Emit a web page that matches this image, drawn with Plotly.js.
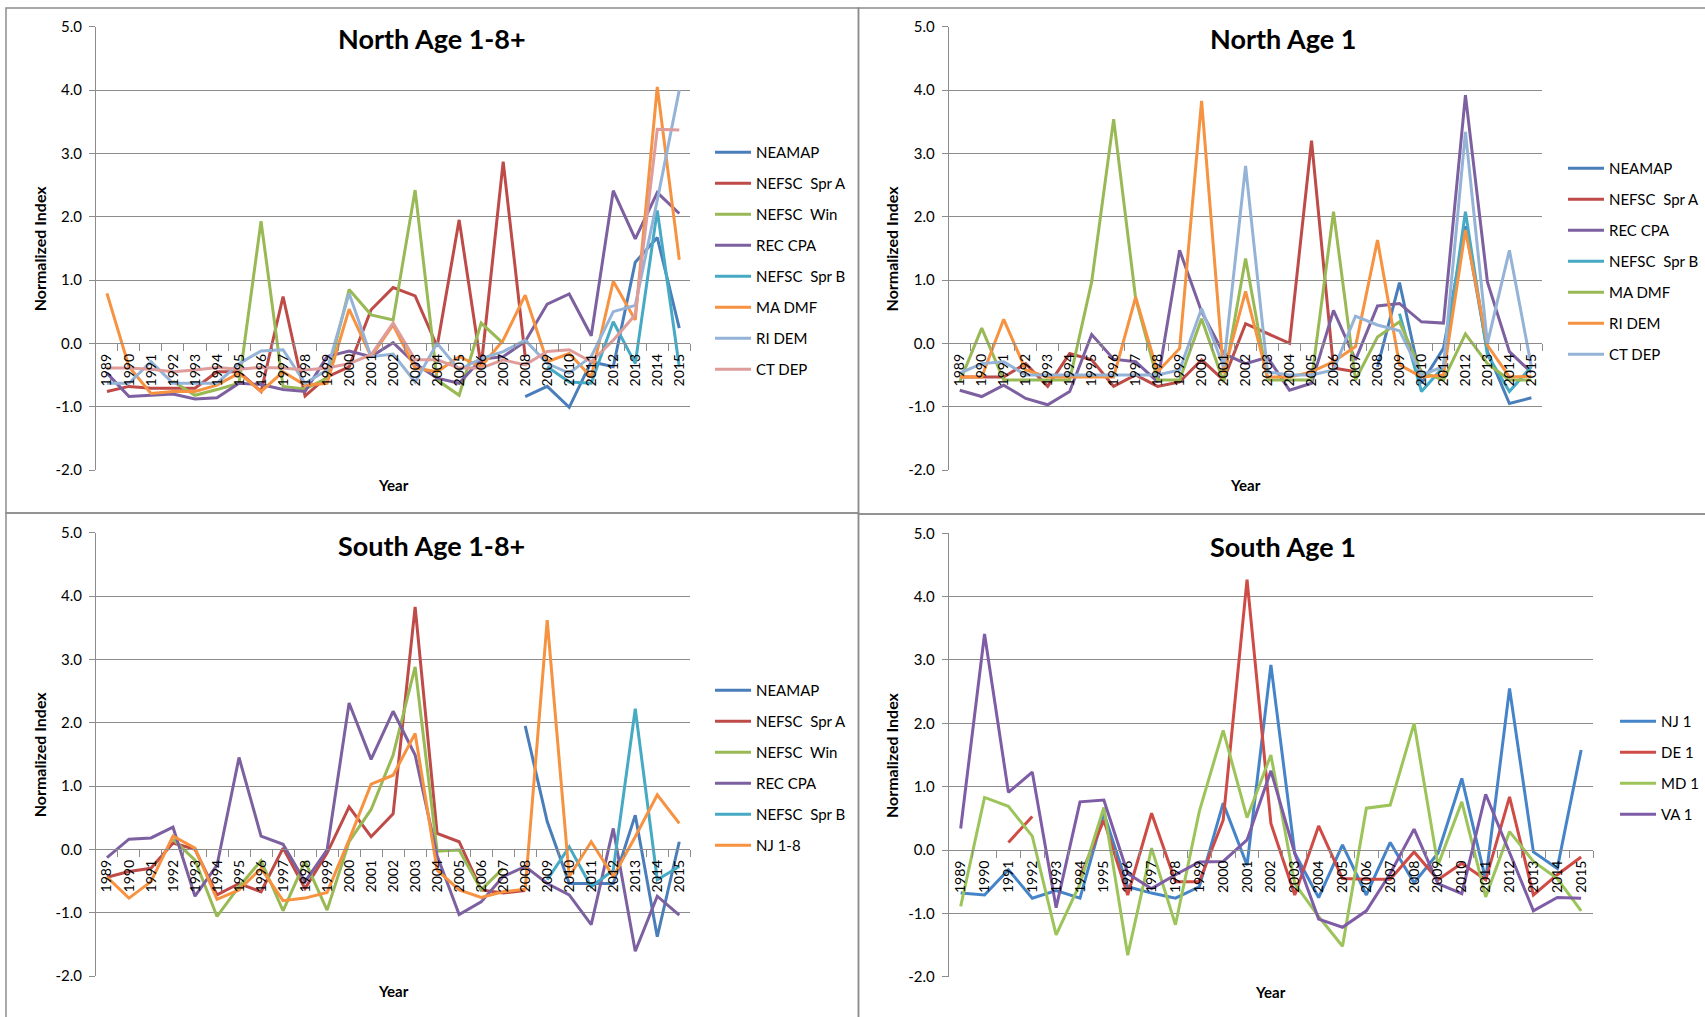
<!DOCTYPE html>
<html>
<head>
<meta charset="utf-8">
<script src="https://cdn.plot.ly/plotly-3.0.1.min.js"></script>
<style>html,body{margin:0;padding:0;background:#fff;}#chart{width:1705px;height:1017px;}</style>
</head>
<body>
<div id="chart"></div>
<script>
// ---------- DATA ----------
const years = ['1989','1990','1991','1992','1993','1994','1995','1996','1997','1998','1999','2000','2001','2002','2003','2004','2005','2006','2007','2008','2009','2010','2011','2012','2013','2014','2015'];
const yTickVals = [-2, -1, 0, 1, 2, 3, 4, 5];
const yTickText = ['-2.0', '-1.0', '0.0', '1.0', '2.0', '3.0', '4.0', '5.0'];

// North Age 1-8+
const n18_neamap = [null,null,null,null,null,null,null,null,null,null,null,null,null,null,null,null,null,null,null,-0.84,-0.68,-1.01,-0.29,-0.37,1.28,1.67,0.24];
const n18_sprA   = [-0.76,-0.68,-0.71,-0.71,-0.71,-0.45,-0.45,-0.76,0.74,-0.83,-0.53,-0.37,0.53,0.88,0.75,-0.05,1.95,-0.37,2.87,-0.21,null,null,null,null,null,null,null];
const n18_win    = [null,null,null,-0.6,-0.82,-0.73,-0.63,1.93,-0.68,-0.72,-0.55,0.85,0.45,0.37,2.42,-0.58,-0.82,0.32,0.0,null,null,null,null,null,null,null,null];
const n18_rec    = [-0.47,-0.84,-0.82,-0.8,-0.88,-0.86,-0.63,-0.65,-0.73,-0.76,-0.21,-0.12,-0.21,0.01,-0.32,-0.55,-0.63,-0.25,-0.21,0.03,0.62,0.78,0.12,2.41,1.65,2.38,2.05];
const n18_sprB   = [null,null,null,null,null,null,null,null,null,null,null,null,null,null,null,null,null,null,null,null,-0.37,-0.61,-0.63,0.34,-0.32,2.1,-0.37];
const n18_madmf  = [0.79,-0.37,-0.79,-0.76,-0.76,-0.66,-0.47,-0.76,-0.45,-0.66,-0.63,0.54,-0.21,0.29,-0.39,-0.45,-0.21,-0.37,0.05,0.76,-0.29,-0.16,-0.53,0.98,0.37,4.05,1.32];
const n18_ridem  = [-0.63,-0.63,-0.29,-0.63,-0.63,-0.63,-0.32,-0.12,-0.1,-0.63,-0.42,0.79,-0.21,-0.17,-0.61,0.0,-0.42,-0.24,-0.13,0.05,-0.32,-0.47,-0.21,0.5,0.6,2.26,4.0];
const n18_ctdep  = [-0.39,-0.39,-0.41,-0.45,-0.42,-0.38,-0.41,-0.38,-0.39,-0.42,-0.39,-0.32,-0.18,0.32,-0.26,-0.26,-0.39,-0.39,-0.26,-0.34,-0.13,-0.1,-0.29,0.05,0.45,3.38,3.37];

// North Age 1
const n1_neamap = [null,null,null,null,null,null,null,null,null,null,null,null,null,null,null,null,null,null,null,-0.37,0.96,-0.63,-0.08,1.85,-0.13,-0.95,-0.86];
const n1_sprA   = [-0.53,-0.53,-0.53,-0.32,-0.68,-0.16,-0.26,-0.68,-0.5,-0.68,-0.61,-0.26,-0.58,0.31,0.16,0.0,3.2,-0.39,-0.45,null,null,null,null,null,null,null,null];
const n1_rec    = [-0.74,-0.84,-0.66,-0.87,-0.97,-0.76,0.14,-0.25,-0.29,-0.61,1.47,0.5,-0.16,-0.32,-0.22,-0.74,-0.63,0.52,-0.26,0.59,0.63,0.34,0.32,3.92,0.97,-0.13,-0.46];
const n1_sprB   = [null,null,null,null,null,null,null,null,null,null,null,null,null,null,null,null,null,null,null,null,0.47,-0.76,-0.37,2.08,-0.18,-0.76,-0.37];
const n1_madmf  = [-0.61,0.24,-0.58,-0.58,-0.58,-0.58,0.97,3.54,0.71,-0.58,-0.58,0.39,-0.61,1.34,-0.58,-0.58,-0.58,2.08,-0.58,0.1,0.34,-0.45,-0.58,0.15,-0.32,-0.58,-0.58];
const n1_ridem  = [-0.53,-0.53,0.38,-0.42,-0.53,-0.53,-0.53,-0.53,0.73,-0.45,-0.08,3.83,-0.47,0.82,-0.53,-0.53,-0.45,-0.29,-0.05,1.63,-0.34,-0.53,-0.5,1.79,-0.03,-0.53,-0.52];
const n1_ctdep  = [-0.47,-0.32,-0.29,-0.5,-0.5,-0.5,-0.5,-0.5,-0.5,-0.5,-0.42,0.55,-0.37,2.8,-0.45,-0.5,-0.5,-0.42,0.43,0.29,0.2,-0.5,-0.37,3.34,0.0,1.47,-0.37];

// South Age 1-8+
const s18_neamap = [null,null,null,null,null,null,null,null,null,null,null,null,null,null,null,null,null,null,null,1.95,0.44,-0.54,-0.54,-0.54,0.54,-1.38,0.12];
const s18_sprA   = [-0.44,-0.35,-0.3,0.1,0.0,-0.72,-0.54,-0.67,0.02,-0.62,-0.06,0.67,0.2,0.56,3.83,0.25,0.12,-0.64,-0.69,-0.65,null,null,null,null,null,null,null];
const s18_win    = [null,null,null,0.16,-0.17,-1.06,-0.59,-0.18,-0.97,-0.19,-0.96,0.12,0.63,1.49,2.88,-0.03,-0.01,-0.64,-0.3,null,null,null,null,null,null,null,null];
const s18_rec    = [-0.13,0.16,0.18,0.35,-0.74,-0.25,1.45,0.21,0.08,-0.51,-0.01,2.31,1.42,2.18,1.49,-0.1,-1.03,-0.83,-0.43,-0.27,-0.54,-0.72,-1.19,0.33,-1.61,-0.74,-1.04];
const s18_sprB   = [null,null,null,null,null,null,null,null,null,null,null,null,null,null,null,null,null,null,null,null,-0.48,0.04,-0.59,-0.33,2.22,-0.48,-0.27];
const s18_nj     = [-0.44,-0.77,-0.51,0.21,0.02,-0.79,-0.64,-0.3,-0.81,-0.77,-0.68,0.15,1.03,1.17,1.83,-0.33,-0.64,-0.76,-0.67,-0.63,3.62,-0.43,0.12,-0.43,0.2,0.86,0.41];

// South Age 1
const s1_nj = [-0.68,-0.71,-0.31,-0.76,-0.64,-0.76,0.58,-0.58,-0.68,-0.76,-0.58,0.74,-0.24,2.92,-0.05,-0.75,0.08,-0.71,0.12,-0.52,-0.05,1.13,-0.47,2.55,-0.03,-0.29,1.58];
const s1_de = [null,null,0.12,0.53,null,-0.42,0.47,-0.71,0.58,-0.5,-0.5,0.47,4.27,0.42,-0.71,0.38,-0.45,-0.46,-0.46,-0.03,-0.47,-0.21,-0.47,0.84,-0.71,-0.39,-0.11];
const s1_md = [-0.89,0.83,0.69,0.22,-1.34,-0.53,0.67,-1.66,0.03,-1.18,0.61,1.89,0.51,1.5,-0.53,-1.05,-1.52,0.66,0.71,2.0,-0.24,0.76,-0.74,0.29,-0.18,-0.45,-0.96];
const s1_va = [0.34,3.41,0.91,1.23,-0.91,0.76,0.79,-0.37,-0.61,-0.39,-0.19,-0.18,0.16,1.25,-0.05,-1.09,-1.22,-0.96,-0.37,0.33,-0.53,-0.69,0.88,-0.05,-0.96,-0.75,-0.76];

const titles = ['North Age 1-8+', 'North Age 1', 'South Age 1-8+', 'South Age 1'];

// ---------- STYLE / LAYOUT ----------
const W = 1705, H = 1017;
const C = {blue:'#4A7EBB', red:'#BE4B48', green:'#98B954', purple:'#7D60A0', teal:'#46AAC5', orange:'#F69240', lblue:'#95B3D7', pink:'#DE9C9A',
           blue4:'#4584C8', red4:'#CF4B46', green4:'#9DC45A', purple4:'#7E5CA6'};
const FONT = 'Lato, "Open Sans", sans-serif';
const GRID = '#8c8c8c';

const px = v => v / W;
const py = v => 1 - v / H;

// plot-area pixel boxes [left, right, top, bottom]
const boxes = [
  [96, 690.7, 26.7, 470],
  [949.3, 1543.3, 26.7, 470],
  [96, 690.7, 532.7, 976],
  [949.3, 1594, 533.3, 976.7]
];

const traces = [];
let gi = 0;
function add(panel, name, data, color) {
  const ax = panel === 0 ? '' : String(panel + 1);
  traces.push({
    type: 'scatter', mode: 'lines', x: years, y: data, name: name,
    xaxis: 'x' + ax, yaxis: 'y' + ax,
    legend: panel === 0 ? 'legend' : 'legend' + (panel + 1),
    legendgroup: 'g' + (gi++),
    line: {color: color, width: 3},
    connectgaps: false, hoverinfo: 'skip'
  });
}
add(0, 'NEAMAP', n18_neamap, C.blue);
add(0, 'NEFSC  Spr A', n18_sprA, C.red);
add(0, 'NEFSC  Win', n18_win, C.green);
add(0, 'REC CPA', n18_rec, C.purple);
add(0, 'NEFSC  Spr B', n18_sprB, C.teal);
add(0, 'MA DMF', n18_madmf, C.orange);
add(0, 'RI DEM', n18_ridem, C.lblue);
add(0, 'CT DEP', n18_ctdep, C.pink);

add(1, 'NEAMAP', n1_neamap, C.blue);
add(1, 'NEFSC  Spr A', n1_sprA, C.red);
add(1, 'REC CPA', n1_rec, C.purple);
add(1, 'NEFSC  Spr B', n1_sprB, C.teal);
add(1, 'MA DMF', n1_madmf, C.green);
add(1, 'RI DEM', n1_ridem, C.orange);
add(1, 'CT DEP', n1_ctdep, C.lblue);

add(2, 'NEAMAP', s18_neamap, C.blue);
add(2, 'NEFSC  Spr A', s18_sprA, C.red);
add(2, 'NEFSC  Win', s18_win, C.green);
add(2, 'REC CPA', s18_rec, C.purple);
add(2, 'NEFSC  Spr B', s18_sprB, C.teal);
add(2, 'NJ 1-8', s18_nj, C.orange);

add(3, 'NJ 1', s1_nj, C.blue4);
add(3, 'DE 1', s1_de, C.red4);
add(3, 'MD 1', s1_md, C.green4);
add(3, 'VA 1', s1_va, C.purple4);

const layout = {
  width: W, height: H,
  margin: {l: 0, r: 0, t: 0, b: 0},
  paper_bgcolor: '#ffffff', plot_bgcolor: '#ffffff',
  font: {family: FONT, color: '#000', size: 14},
  hovermode: false,
  annotations: [], shapes: []
};

const YMIN = -2, YMAX = 5;
const titleCentersX = [432, 1284, 432, 1284];
const titleY = [39, 39, 545, 546];
const yearY = [485, 485, 991, 992];
const ytitleX = [39, 891.6, 39, 891.6];
const legendPos = [[710, 136], [1564, 152], [710, 674], [1615, 705]];

boxes.forEach((b, i) => {
  const ax = i === 0 ? '' : String(i + 1);
  const xd = [px(b[0]), px(b[1])];
  const yd = [py(b[3]), py(b[2])];
  const zeroPos = yd[0] + (0 - YMIN) / (YMAX - YMIN) * (yd[1] - yd[0]);
  layout['xaxis' + ax] = {
    domain: xd, type: 'category', categoryorder: 'array', categoryarray: years,
    range: [-0.5, years.length - 0.5],
    anchor: 'free', position: zeroPos,
    showline: true, linecolor: GRID, linewidth: 1,
    ticks: 'outside', tickson: 'boundaries', ticklen: 7, tickcolor: GRID, tickwidth: 1,
    tickangle: -90, tickfont: {family: FONT, size: 14, color: '#000'},
    ticklabelstandoff: 4,
    showgrid: false, zeroline: false, fixedrange: true
  };
  layout['yaxis' + ax] = {
    domain: yd, anchor: 'x' + ax, range: [YMIN, YMAX],
    tickmode: 'array', tickvals: yTickVals, ticktext: yTickText,
    showline: true, linecolor: GRID, linewidth: 1,
    ticks: 'outside', ticklen: 6, tickcolor: GRID,
    showgrid: true, gridcolor: GRID, gridwidth: 1, zeroline: false,
    tickfont: {family: FONT, size: 15, color: '#000'},
    ticklabelstandoff: 4, fixedrange: true
  };
  const lg = {
    x: px(legendPos[i][0]), y: py(legendPos[i][1]), xanchor: 'left', yanchor: 'top',
    bgcolor: 'rgba(0,0,0,0)', borderwidth: 0,
    font: {family: FONT, size: 15, color: '#000'},
    itemwidth: 36,
    tracegroupgap: 8.5, itemclick: false, itemdoubleclick: false
  };
  layout[i === 0 ? 'legend' : 'legend' + (i + 1)] = lg;

  layout.annotations.push({
    text: '<b>' + titles[i] + '</b>', xref: 'paper', yref: 'paper',
    x: px(titleCentersX[i]), y: py(titleY[i]), xanchor: 'center', yanchor: 'middle',
    showarrow: false, font: {family: FONT, size: 27, color: '#000'}
  });
  layout.annotations.push({
    text: '<b>Year</b>', xref: 'paper', yref: 'paper',
    x: (xd[0] + xd[1]) / 2, y: py(yearY[i]), xanchor: 'center', yanchor: 'middle',
    showarrow: false, font: {family: FONT, size: 15, color: '#000'}
  });
  layout.annotations.push({
    text: '<b>Normalized Index</b>', xref: 'paper', yref: 'paper', textangle: -90,
    x: px(ytitleX[i]), y: (yd[0] + yd[1]) / 2, xanchor: 'center', yanchor: 'middle',
    showarrow: false, font: {family: FONT, size: 16, color: '#000'}
  });
});

// chart-area borders
const frames = [[6, 859, 8, 513], [859, 1712, 8, 514], [6, 859, 513, 1022], [859, 1712, 514, 1022]];
frames.forEach(f => {
  layout.shapes.push({type: 'rect', xref: 'paper', yref: 'paper',
    x0: px(f[0]), x1: px(f[1]), y0: py(f[3]), y1: py(f[2]),
    line: {color: '#8c8c8c', width: 1.5}, fillcolor: 'rgba(0,0,0,0)', layer: 'below'});
});

Plotly.newPlot('chart', traces, layout, {displayModeBar: false, staticPlot: true});
</script>
</body>
</html>
